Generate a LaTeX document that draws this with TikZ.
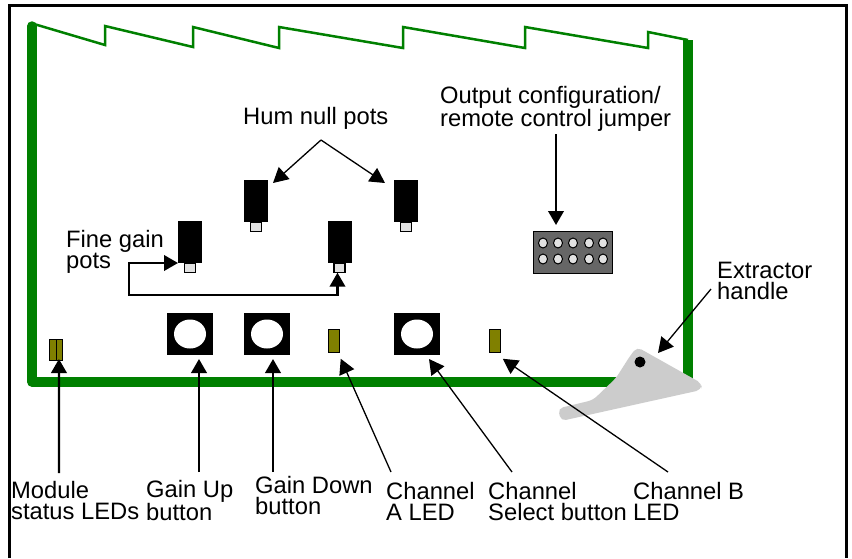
\documentclass[tikz,border=0pt]{standalone}
\usepackage{xcolor}
\usepackage{fontspec}
\setmainfont{Liberation Sans}
\usepackage{tikz}
\usetikzlibrary{arrows.meta,positioning,shapes.geometric}
\definecolor{boardgreen}{HTML}{008000}
\definecolor{ledolive}{HTML}{808000}
\definecolor{handlegray}{HTML}{CCCCCC}
\definecolor{tabgray}{HTML}{E2E2E2}
\definecolor{jumpergray}{HTML}{666666}
\tikzset{
	lbl/.style={anchor=north west,inner sep=0pt,align=left,font=\fontsize{23.75}{21}\selectfont},
	potbody/.style={fill=black,inner sep=0pt,outer sep=0pt,minimum width=24pt,minimum height=42pt},
	pottab/.style={draw=black,line width=1.4pt,fill=tabgray,inner sep=0pt,outer sep=0pt,minimum width=11pt,minimum height=9pt},
	buttonbox/.style={fill=black,inner sep=0pt,outer sep=0pt,minimum width=46pt,minimum height=42pt},
	buttonhole/.style={ellipse,fill=white,inner sep=0pt,minimum width=32pt,minimum height=29pt},
	ledbox/.style={draw=black,line width=1pt,fill=ledolive,inner sep=0pt,outer sep=0pt,minimum width=11.5pt,minimum height=23.5pt},
	pinhole/.style={ellipse,draw=black,line width=1pt,fill=tabgray,inner sep=0pt,minimum width=9pt,minimum height=10pt},
	bigarrow/.style={line width=2.3pt,-{Triangle[length=14pt,width=15.5pt]}},
	thinarrow/.style={line width=1.3pt,-{Triangle[length=15pt,width=16pt]}}
}
\begin{document}
\begin{tikzpicture}[x=1pt,y=-1pt]
\useasboundingbox (0,0) rectangle (852,558);
\fill[white] (0,0) rectangle (852,558);
\draw[line width=3.4pt] (9.5,558) -- (9.5,5.5) -- (846.5,5.5) -- (846.5,558);

\draw[boardgreen,line width=2.5pt,line join=miter] (34,24) -- (105,45) -- (105,26) -- (193,47) -- (193,27) -- (279,48) -- (279,27) -- (403,48) -- (403,27) -- (525,48) -- (525,27) -- (648,48) -- (648,32) -- (688,40);
\draw[boardgreen,line width=9.5pt,line join=round,line cap=round] (32,26) -- (32,382) -- (620,382);
\draw[boardgreen,line width=9.5pt] (688,40) -- (688,382);
\fill[handlegray,rounded corners=5pt] (637,347) -- (702,383.5) -- (701,390) -- (561,421) -- (558,408.5) -- (593,400) -- (616,378) -- (630,356) -- cycle;
\node[circle,fill=black,inner sep=0pt,minimum size=11pt] (handlehole) at (640,362) {};

\foreach \name/\px/\py in {humL/256/201,humR/406/201,fineL/190/242,fineR/339.5/242}{
	\node[potbody] (\name) at (\px,\py) {};
	\node[pottab,below=0.7pt of \name] (\name tab) {};
}
\foreach \name/\px in {gainup/190,gaindown/267,chansel/417}{
	\node[buttonbox] (\name) at (\px,334) {};
	\node[buttonhole] (\name hole) at (\px,334) {};
}
\node[ledbox] (leda) at (334,341) {};
\node[ledbox] (ledb) at (495,341) {};
\node[ledbox,minimum width=6.5pt,minimum height=21pt] (modL) at (53.2,349.5) {};
\node[ledbox,minimum width=6.5pt,minimum height=21pt] (modR) at (59.7,349.5) {};

\node[draw=black,line width=1pt,fill=jumpergray,inner sep=0pt,outer sep=0pt,minimum width=79pt,minimum height=42pt] (jumper) at (572.5,252) {};
\foreach \px in {543,558,573,589,603}{
	\node[pinhole] (pinT\px) at (\px,243) {};
	\node[pinhole] (pinB\px) at (\px,259) {};
}

\node[lbl] (humlabel) at (243,107) {Hum null pots};
\node[lbl] (outlabel) at (440,86) {Output configuration/\\remote control jumper};
\node[lbl] (finelabel) at (66,230) {Fine gain\\pots};
\node[lbl] (extlabel) at (717,262) {Extractor\\handle};
\node[lbl] (modlabel) at (11,481) {Module\\status LEDs};
\node[lbl] (uplabel) at (146,480) {Gain Up\\button};
\node[lbl] (downlabel) at (255,476) {Gain Down\\button};
\node[lbl] (alabel) at (386,482) {Channel\\A LED};
\node[lbl] (sellabel) at (488,482) {Channel\\Select button};
\node[lbl] (blabel) at (633,482) {Channel B\\LED};

\coordinate (humapex) at (321,140);
\coordinate (outstart) at (556,134);
\coordinate (fineturn) at (129,295);
\coordinate (extstart) at (711,289);
\coordinate (modstart) at (59,473);
\coordinate (upstart) at (199,472);
\coordinate (downstart) at (273,472);
\coordinate (astart) at (391,472);
\coordinate (selstart) at (512,472);
\coordinate (bstart) at (668,472);

\draw[thinarrow] (humapex) -- ([xshift=5pt,yshift=-3pt]humL.north east);
\draw[thinarrow] (humapex) -- ([xshift=-9pt,yshift=-3pt]humR.north west);
\draw[bigarrow] (outstart) -- ([xshift=-16.5pt,yshift=6pt]jumper.north);
\draw[line width=2.3pt,{Triangle[length=14pt,width=15.5pt]}-{Triangle[length=14pt,width=15.5pt]}] (fineL.south west) -| (fineturn) -| ([xshift=-2pt]fineRtab.south);
\draw[thinarrow] (extstart) -- ([xshift=18pt,yshift=9pt]handlehole.center);
\draw[bigarrow] (modstart) -- ([xshift=2.5pt,yshift=1pt]modR.south west);
\draw[bigarrow] (upstart) -- ([xshift=9pt,yshift=-4pt]gainup.south);
\draw[bigarrow] (downstart) -- ([xshift=6pt,yshift=-4pt]gaindown.south);
\draw[thinarrow] (astart) -- ([xshift=1pt,yshift=-6pt]leda.south east);
\draw[thinarrow] (selstart) -- ([xshift=12pt,yshift=-4pt]chansel.south);
\draw[thinarrow] (bstart) -- ([xshift=2pt,yshift=-6pt]ledb.south east);
\end{tikzpicture}
\end{document}
